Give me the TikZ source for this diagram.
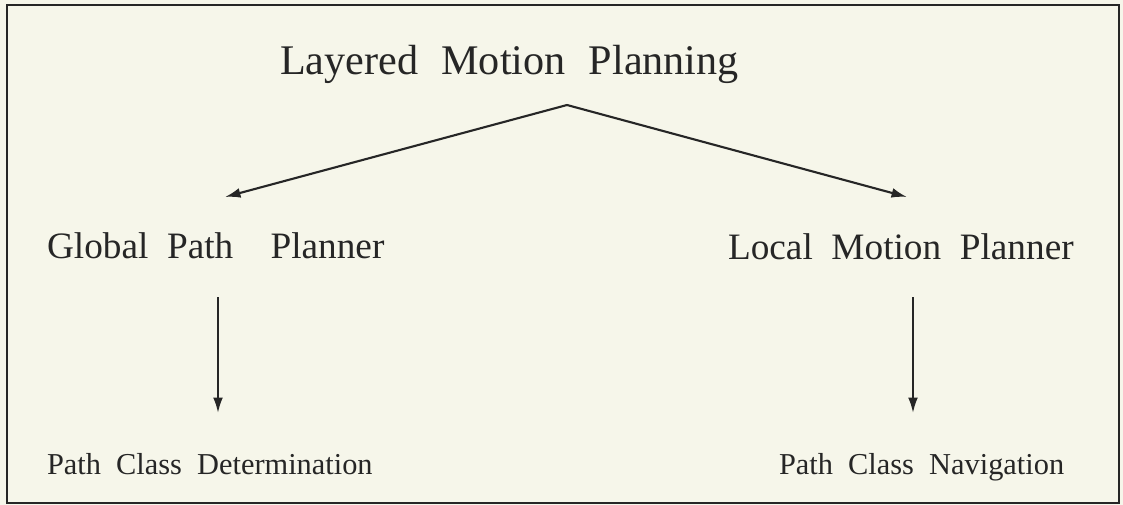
\documentclass[tikz,border=0pt]{standalone}
\usepackage{fontspec}
\setmainfont{Liberation Serif}
\usetikzlibrary{arrows.meta}
\definecolor{paper}{HTML}{F6F6EA}
\definecolor{ink}{HTML}{262626}

\begin{document}
\begin{tikzpicture}[x=0.025cm,y=-0.025cm,inner sep=0pt,outer sep=0pt,ink,
toplabel/.style={anchor=base west,font={\fontsize{30}{36}\selectfont\spaceskip=0.55em\relax}},
midlabel/.style={anchor=base west,font={\fontsize{26.5}{30}\selectfont\spaceskip=0.5em\relax}},
lowlabel/.style={anchor=base west,font={\fontsize{21.6}{24}\selectfont\spaceskip=0.5em\relax}},
arr/.style={-{Latex[length=11pt,width=7pt]},line width=1.5pt}]

\fill[paper] (0,0) rectangle (1123,505);
\useasboundingbox (0,0) rectangle (1123,505);
\draw[line width=1.3pt] (7,5) rectangle (1119,503);

\draw (280,75) node[toplabel] (lmp) {Layered Motion Planning};
\draw (47,258) node[midlabel] (gpp) {Global Path \ Planner};
\draw (728,259) node[midlabel] (lcp) {Local Motion Planner};
\draw (47,474) node[lowlabel] (pcd) {Path Class Determination};
\draw (779,474) node[lowlabel] (pcn) {Path Class Navigation};

% branch point under the title, arrow ends
\coordinate (apex) at (567,105);
\coordinate (gtip) at (225,197);
\coordinate (ltip) at (907,197);
\coordinate (gtop) at (218,297);
\coordinate (gbot) at (218,413);
\coordinate (ltop) at (913,297);
\coordinate (lbot) at (913,413);
\draw[arr] (apex) -- (gtip);
\draw[arr] (apex) -- (ltip);
\draw[arr] (gtop) -- (gbot);
\draw[arr] (ltop) -- (lbot);
\end{tikzpicture}
\end{document}
